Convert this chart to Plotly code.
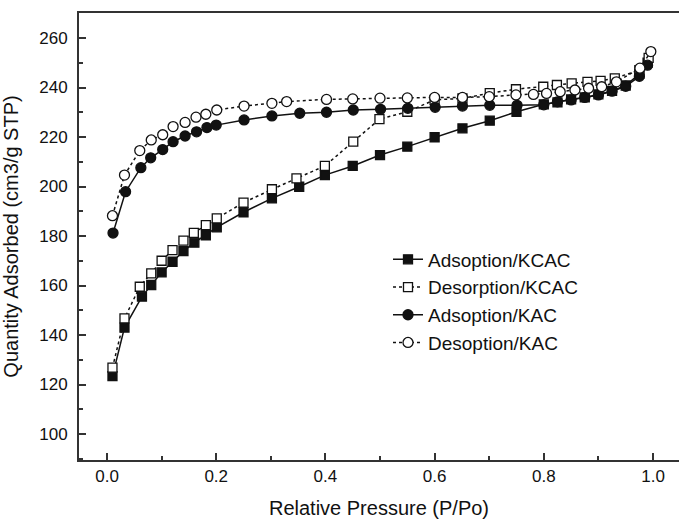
import plotly.graph_objects as go

# Data
kcac_ads_x = [0.010, 0.032, 0.064, 0.081, 0.100, 0.120, 0.140, 0.160, 0.181, 0.201, 0.250, 0.302, 0.352, 0.399,
              0.450, 0.500, 0.550, 0.600, 0.651, 0.701, 0.750, 0.800, 0.825, 0.850, 0.875, 0.900, 0.925, 0.950, 0.975, 0.990]
kcac_ads_y = [123.4, 143.0, 155.5, 160.2, 165.3, 169.6, 173.9, 177.3, 180.3, 183.5, 189.6, 195.2, 199.9, 204.6,
              208.3, 212.7, 216.1, 219.9, 223.5, 226.6, 230.2, 233.2, 234.0, 235.2, 236.0, 237.2, 238.6, 240.8, 245.5, 250.0]

kcac_des_x = [0.010, 0.032, 0.060, 0.081, 0.100, 0.120, 0.140, 0.159, 0.181, 0.201, 0.250, 0.302, 0.347, 0.399,
              0.451, 0.499, 0.550, 0.600, 0.651, 0.701, 0.749, 0.799, 0.824, 0.851, 0.880, 0.904, 0.930, 0.975, 0.992]
kcac_des_y = [126.8, 146.7, 159.5, 164.9, 170.0, 174.3, 178.1, 181.3, 184.4, 187.1, 193.5, 198.9, 203.3, 208.3,
              218.1, 227.2, 230.2, 235.0, 235.6, 237.7, 239.3, 240.3, 241.0, 241.7, 242.3, 242.7, 243.7, 247.0, 252.0]

kac_ads_x = [0.011, 0.034, 0.062, 0.080, 0.102, 0.121, 0.143, 0.164, 0.183, 0.200, 0.251, 0.302, 0.353, 0.402,
             0.451, 0.501, 0.551, 0.601, 0.651, 0.701, 0.751, 0.800, 0.825, 0.850, 0.875, 0.900, 0.925, 0.950, 0.975, 0.990]
kac_ads_y = [181.2, 197.9, 207.6, 211.6, 214.9, 218.1, 220.4, 222.1, 223.8, 224.8, 226.9, 228.5, 229.6, 230.0,
             230.9, 231.2, 231.6, 232.0, 232.5, 232.8, 232.8, 233.0, 234.2, 235.0, 236.0, 237.0, 238.5, 240.5, 244.5, 249.0]

kac_des_x = [0.010, 0.032, 0.060, 0.081, 0.102, 0.121, 0.143, 0.163, 0.181, 0.201, 0.251, 0.302, 0.329, 0.402,
             0.450, 0.500, 0.550, 0.600, 0.651, 0.700, 0.749, 0.781, 0.805, 0.830, 0.857, 0.882, 0.906, 0.933, 0.976, 0.996]
kac_des_y = [188.2, 204.6, 214.5, 218.8, 220.9, 224.2, 225.9, 228.0, 229.2, 230.9, 232.5, 233.6, 234.3, 235.2,
             235.4, 235.7, 235.8, 236.0, 236.0, 236.3, 237.0, 237.2, 237.6, 238.3, 239.0, 239.7, 240.3, 242.3, 247.8, 254.5]

names = ["Adsoption/KCAC", "Desorption/KCAC", "Adsoption/KAC", "Desoption/KAC"]

FONT = "Liberation Sans, Arial, sans-serif"
INK = "#111111"

fig = go.Figure()

def add(x, y, name, symbol, filled, dash):
    fig.add_trace(go.Scatter(
        x=x, y=y, name=name, mode="lines+markers",
        line=dict(color=INK, width=1.5, dash=dash),
        marker=dict(symbol=symbol, size=10 if symbol == "circle" else 9,
                    color=INK if filled else "white",
                    line=dict(color=INK, width=1.3)),
    ))

add(kcac_ads_x, kcac_ads_y, names[0], "square", True, "solid")
add(kcac_des_x, kcac_des_y, names[1], "square", False, "dot")
add(kac_ads_x, kac_ads_y, names[2], "circle", True, "solid")
add(kac_des_x, kac_des_y, names[3], "circle", False, "dot")

fig.update_layout(
    width=679, height=519,
    margin=dict(l=79, r=0, t=13, b=59),
    paper_bgcolor="white", plot_bgcolor="white",
    font=dict(family=FONT, color=INK),
    showlegend=True,
    legend=dict(x=0.515, y=0.491, xanchor="left", yanchor="top",
                font=dict(size=19, family=FONT, color=INK),
                bgcolor="rgba(0,0,0,0)", tracegroupgap=0, itemwidth=30),
)

fig.update_xaxes(
    range=[-0.0513, 1.0476],
    tickvals=[0.0, 0.2, 0.4, 0.6, 0.8, 1.0],
    ticktext=["0.0", "0.2", "0.4", "0.6", "0.8", "1.0"],
    ticks="inside", ticklen=7, tickwidth=1.5, tickcolor="#333",
    minor=dict(dtick=0.1, tick0=0, ticks="inside", ticklen=4, tickwidth=1.5, tickcolor="#333"),
    showline=True, linecolor="#333", linewidth=2, mirror=True,
    showgrid=False, zeroline=False,
    tickfont=dict(size=17, family=FONT, color=INK),
    title=dict(text="Relative Pressure (P/Po)", font=dict(size=20, family=FONT, color=INK), standoff=17),
)

fig.update_yaxes(
    range=[89.5, 270.1],
    tickvals=[100, 120, 140, 160, 180, 200, 220, 240, 260],
    ticks="inside", ticklen=7, tickwidth=1.5, tickcolor="#333",
    minor=dict(dtick=10, tick0=0, ticks="inside", ticklen=4, tickwidth=1.5, tickcolor="#333"),
    showline=True, linecolor="#333", linewidth=2, mirror=False,
    showgrid=False, zeroline=False,
    ticklabelstandoff=6,
    tickfont=dict(size=17, family=FONT, color=INK),
    title=dict(text="Quantity Adsorbed (cm3/g STP)", font=dict(size=20, family=FONT, color=INK), standoff=17),
)

fig.write_html("out.html")
